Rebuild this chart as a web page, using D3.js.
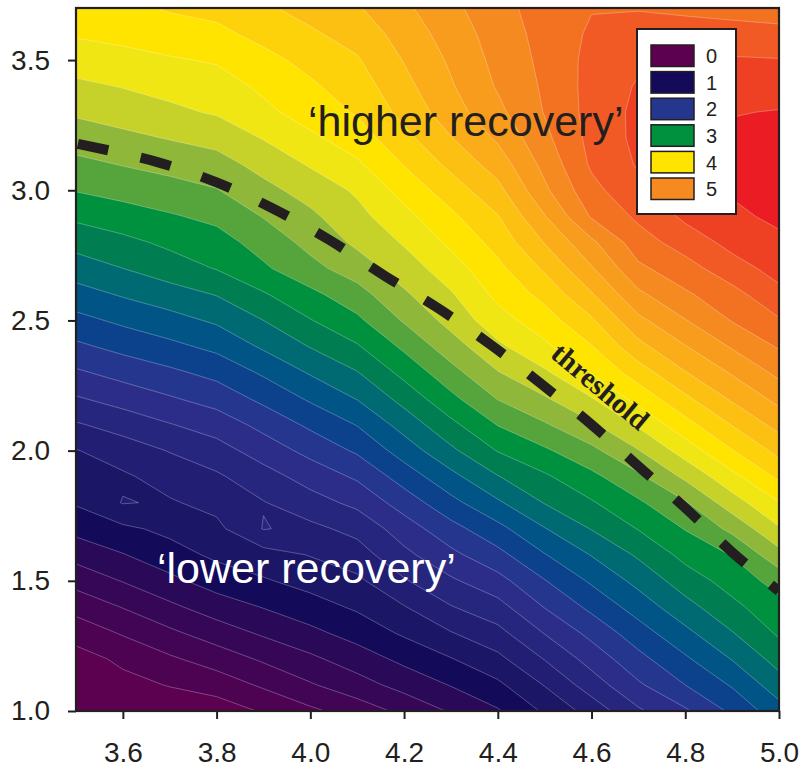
<!DOCTYPE html>
<html>
<head>
<meta charset="utf-8">
<script src="https://cdn.jsdelivr.net/npm/d3@7"></script>
<style>
  body { margin: 0; background: #fff; }
  text { font-family: "Liberation Sans", Arial, Helvetica, sans-serif; }
</style>
</head>
<body>
<svg id="chart" width="802" height="771"></svg>
<script>
// grid of the surface: columns (x) and rows (y, top to bottom)
const xValues = [3.5, 3.6, 3.7, 3.8, 3.9, 4.0, 4.1, 4.2, 4.3, 4.4, 4.5, 4.6, 4.7, 4.8, 4.9, 5.0];
const yValues = [3.7, 3.6, 3.5, 3.4, 3.3, 3.2, 3.1, 3.0, 2.9, 2.8, 2.7, 2.6, 2.5, 2.4,
                 2.3, 2.2, 2.1, 2.0, 1.9, 1.8, 1.7, 1.6, 1.5, 1.4, 1.3, 1.2, 1.1, 1.0];

// surface values, one row per y value
const zRows = [
  [4.10, 4.15, 4.22, 4.26, 4.37, 4.47, 4.58, 4.76, 4.95, 5.13, 5.29, 5.39, 5.39, 5.36, 5.33, 5.32],
  [4.02, 4.06, 4.11, 4.15, 4.26, 4.37, 4.48, 4.68, 4.89, 5.09, 5.27, 5.43, 5.47, 5.49, 5.48, 5.45],
  [3.89, 3.93, 3.98, 4.02, 4.14, 4.26, 4.38, 4.61, 4.83, 5.06, 5.25, 5.46, 5.56, 5.62, 5.62, 5.61],
  [3.76, 3.81, 3.86, 3.91, 4.04, 4.17, 4.30, 4.54, 4.78, 5.02, 5.23, 5.47, 5.62, 5.68, 5.71, 5.71],
  [3.63, 3.69, 3.76, 3.82, 3.95, 4.09, 4.22, 4.46, 4.71, 4.95, 5.21, 5.47, 5.65, 5.73, 5.79, 5.81],
  [3.49, 3.55, 3.61, 3.67, 3.81, 3.96, 4.10, 4.34, 4.59, 4.83, 5.15, 5.46, 5.65, 5.75, 5.84, 5.89],
  [3.35, 3.41, 3.46, 3.52, 3.67, 3.82, 3.97, 4.21, 4.45, 4.69, 5.06, 5.43, 5.62, 5.74, 5.85, 5.95],
  [3.21, 3.27, 3.33, 3.39, 3.54, 3.68, 3.83, 4.07, 4.30, 4.54, 4.96, 5.34, 5.55, 5.70, 5.82, 5.92],
  [3.04, 3.11, 3.18, 3.25, 3.41, 3.56, 3.74, 3.94, 4.16, 4.39, 4.79, 5.22, 5.44, 5.64, 5.76, 5.84],
  [2.87, 2.95, 3.04, 3.12, 3.28, 3.46, 3.64, 3.82, 4.04, 4.27, 4.61, 4.96, 5.31, 5.49, 5.66, 5.76],
  [2.70, 2.80, 2.91, 3.01, 3.17, 3.34, 3.50, 3.70, 3.91, 4.15, 4.43, 4.78, 5.16, 5.32, 5.52, 5.67],
  [2.52, 2.62, 2.71, 2.81, 2.98, 3.15, 3.32, 3.57, 3.78, 4.05, 4.26, 4.58, 4.96, 5.17, 5.33, 5.55],
  [2.34, 2.44, 2.53, 2.63, 2.80, 2.99, 3.16, 3.42, 3.67, 3.92, 4.11, 4.37, 4.75, 4.99, 5.21, 5.38],
  [2.16, 2.26, 2.35, 2.45, 2.63, 2.81, 2.98, 3.24, 3.51, 3.76, 3.96, 4.19, 4.54, 4.79, 5.02, 5.22],
  [1.97, 2.07, 2.16, 2.26, 2.43, 2.62, 2.79, 3.06, 3.33, 3.59, 3.77, 4.01, 4.30, 4.59, 4.82, 5.05],
  [1.78, 1.88, 1.98, 2.08, 2.25, 2.43, 2.61, 2.87, 3.15, 3.41, 3.58, 3.79, 4.07, 4.36, 4.63, 4.86],
  [1.58, 1.68, 1.79, 1.89, 2.06, 2.24, 2.41, 2.68, 2.95, 3.21, 3.38, 3.57, 3.83, 4.13, 4.41, 4.67],
  [1.39, 1.50, 1.61, 1.72, 1.89, 2.06, 2.23, 2.49, 2.76, 3.01, 3.17, 3.35, 3.59, 3.89, 4.19, 4.46],
  [1.30, 1.37, 1.48, 1.57, 1.72, 1.88, 2.03, 2.29, 2.54, 2.79, 2.97, 3.15, 3.36, 3.64, 3.94, 4.24],
  [1.22, 1.41, 1.38, 1.46, 1.59, 1.72, 1.85, 2.09, 2.34, 2.57, 2.81, 2.98, 3.17, 3.38, 3.71, 3.99],
  [1.06, 1.16, 1.25, 1.35, 1.61, 1.55, 1.66, 1.90, 2.13, 2.34, 2.59, 2.81, 3.01, 3.21, 3.45, 3.78],
  [0.87, 0.99, 1.12, 1.24, 1.32, 1.41, 1.51, 1.75, 1.95, 2.14, 2.39, 2.61, 2.83, 3.06, 3.21, 3.53],
  [0.67, 0.81, 0.95, 1.09, 1.18, 1.27, 1.36, 1.58, 1.77, 1.93, 2.19, 2.43, 2.66, 2.90, 3.08, 3.28],
  [0.47, 0.61, 0.76, 0.90, 1.01, 1.12, 1.23, 1.39, 1.59, 1.73, 2.01, 2.25, 2.49, 2.73, 2.95, 3.13],
  [0.28, 0.42, 0.56, 0.70, 0.83, 0.95, 1.08, 1.23, 1.39, 1.54, 1.81, 2.06, 2.31, 2.55, 2.79, 3.03],
  [0.12, 0.24, 0.37, 0.49, 0.63, 0.76, 0.90, 1.05, 1.19, 1.35, 1.61, 1.88, 2.14, 2.37, 2.61, 2.88],
  [0.06, 0.14, 0.21, 0.29, 0.43, 0.58, 0.72, 0.87, 1.01, 1.16, 1.41, 1.70, 1.97, 2.20, 2.42, 2.71],
  [0.02, 0.04, 0.07, 0.09, 0.22, 0.36, 0.49, 0.65, 0.82, 0.98, 1.23, 1.48, 1.77, 1.97, 2.24, 2.52]
];

// contour levels and the fill of the band above each level
const bandLevels = [0.0, 0.2, 0.4, 0.6, 0.8, 1.0, 1.2, 1.4, 1.6, 1.8,
                    2.0, 2.2, 2.4, 2.6, 2.8, 3.0, 3.2, 3.4, 3.6, 3.8,
                    4.0, 4.2, 4.4, 4.6, 4.8, 5.0, 5.2, 5.4, 5.6, 5.8];
const bandColors = ["#5c0050", "#4e0352", "#420555", "#360757", "#2a0959",
                    "#140a5a", "#1c1666", "#211e73", "#27267f", "#2c2d89",
                    "#25368f", "#0b428b", "#005486", "#006a72", "#007e52",
                    "#00913f", "#56a43c", "#8fb73a", "#c6d22a", "#f0e614",
                    "#ffe400", "#fed20a", "#fcc013", "#faad19", "#f79c1d",
                    "#f58a20", "#f37222", "#f15a24", "#ee4123", "#ec1c24"];

// legend entries
const legendLabels = ["0", "1", "2", "3", "4", "5"];
const legendLevels = [0, 1, 2, 3, 4, 5];

// dashed threshold line
const thresholdX = [3.50, 3.67, 3.80, 3.92, 4.04, 4.16, 4.27, 4.39, 4.49, 4.60, 4.70, 4.80, 4.90, 5.00];
const thresholdY = [3.18, 3.11, 3.03, 2.93, 2.81, 2.67, 2.55, 2.40, 2.26, 2.10, 1.94, 1.78, 1.61, 1.46];

// axis ticks
const xTicks = [3.6, 3.8, 4.0, 4.2, 4.4, 4.6, 4.8, 5.0];
const yTicks = [1.0, 1.5, 2.0, 2.5, 3.0, 3.5];

const ink = "#231f20";
const svg = d3.select("#chart");

const plot = { left: 76, top: 8, width: 703, height: 703 };
const x = d3.scaleLinear().domain([3.5, 5.0]).range([plot.left, plot.left + plot.width]);
const y = d3.scaleLinear().domain([1.0, 3.7]).range([plot.top + plot.height, plot.top]);

svg.append("defs").append("clipPath")
    .attr("id", "plot-clip")
  .append("rect")
    .attr("x", plot.left)
    .attr("y", plot.top)
    .attr("width", plot.width)
    .attr("height", plot.height);

// filled contours
const nx = xValues.length, ny = yValues.length;
const dx = xValues[1] - xValues[0];
const dy = yValues[0] - yValues[1];

const bands = d3.contours()
    .size([nx, ny])
    .thresholds(bandLevels)(zRows.flat());

// grid value i sits at contour coordinate i + 0.5
const gridToPixels = d3.geoTransform({
    point: function (gx, gy) {
        this.stream.point(x(xValues[0] + (gx - 0.5) * dx), y(yValues[0] - (gy - 0.5) * dy));
    }
});
const bandPath = d3.geoPath(gridToPixels);

const plotArea = svg.append("g").attr("clip-path", "url(#plot-clip)");

plotArea.append("g")
  .selectAll("path")
    .data(bands)
  .join("path")
    .attr("d", bandPath)
    .attr("fill", function (d, i) { return bandColors[i]; })
    .attr("stroke", "#ffffff")
    .attr("stroke-width", 0.6)
    .attr("stroke-opacity", 0.45)
    .attr("stroke-linejoin", "round");

// threshold line
const thresholdLine = d3.line()
    .x(function (d) { return x(d[0]); })
    .y(function (d) { return y(d[1]); })
    .curve(d3.curveCatmullRom.alpha(0.5));

plotArea.append("path")
    .datum(d3.zip(thresholdX, thresholdY))
    .attr("d", thresholdLine)
    .attr("fill", "none")
    .attr("stroke", ink)
    .attr("stroke-width", 10)
    .attr("stroke-dasharray", "31 33")
    .attr("stroke-dashoffset", -2);

// annotations
svg.append("text")
    .attr("x", 308)
    .attr("y", 136)
    .attr("font-size", 43)
    .attr("fill", ink)
    .text("\u2018higher recovery\u2019");

svg.append("text")
    .attr("x", 157)
    .attr("y", 583)
    .attr("font-size", 43)
    .attr("fill", "#ffffff")
    .text("\u2018lower recovery\u2019");

svg.append("text")
    .attr("transform", "translate(594,394) rotate(40)")
    .attr("text-anchor", "middle")
    .style("font-family", "'Liberation Serif', 'Times New Roman', serif")
    .attr("font-weight", "bold")
    .attr("font-size", 29)
    .attr("fill", ink)
    .text("threshold");

// axes
const xAxis = svg.append("g")
    .attr("transform", "translate(0," + (plot.top + plot.height) + ")")
    .call(d3.axisBottom(x)
        .tickValues(xTicks)
        .tickFormat(d3.format(".1f"))
        .tickSizeInner(8)
        .tickSizeOuter(0)
        .tickPadding(23));

const yAxis = svg.append("g")
    .attr("transform", "translate(" + plot.left + ",0)")
    .call(d3.axisLeft(y)
        .tickValues(yTicks)
        .tickFormat(d3.format(".1f"))
        .tickSizeInner(8)
        .tickSizeOuter(0)
        .tickPadding(18));

[xAxis, yAxis].forEach(function (axis) {
    axis.select(".domain").remove();
    axis.selectAll(".tick line").attr("stroke", ink).attr("stroke-width", 2);
    axis.selectAll(".tick text")
        .attr("fill", ink)
        .attr("font-size", 28)
        .style("font-family", "'Liberation Sans', Arial, sans-serif");
});

// frame
svg.append("rect")
    .attr("x", plot.left)
    .attr("y", plot.top)
    .attr("width", plot.width)
    .attr("height", plot.height)
    .attr("fill", "none")
    .attr("stroke", ink)
    .attr("stroke-width", 2.2);

// legend
const legend = svg.append("g").attr("transform", "translate(637,29)");

legend.append("rect")
    .attr("width", 99)
    .attr("height", 185)
    .attr("fill", "#ffffff")
    .attr("stroke", ink)
    .attr("stroke-width", 2);

const legendItems = legend.selectAll("g.item")
    .data(legendLevels)
  .join("g")
    .attr("class", "item")
    .attr("transform", function (d, i) { return "translate(14," + (16 + i * 26.6) + ")"; });

legendItems.append("rect")
    .attr("width", 43)
    .attr("height", 21.5)
    .attr("fill", function (d) { return bandColors[bandLevels.indexOf(d)]; })
    .attr("stroke", ink)
    .attr("stroke-width", 1.5);

legendItems.append("text")
    .attr("x", 55)
    .attr("y", 11)
    .attr("dy", "0.36em")
    .attr("font-size", 20)
    .attr("fill", ink)
    .text(function (d, i) { return legendLabels[i]; });
</script>
</body>
</html>
